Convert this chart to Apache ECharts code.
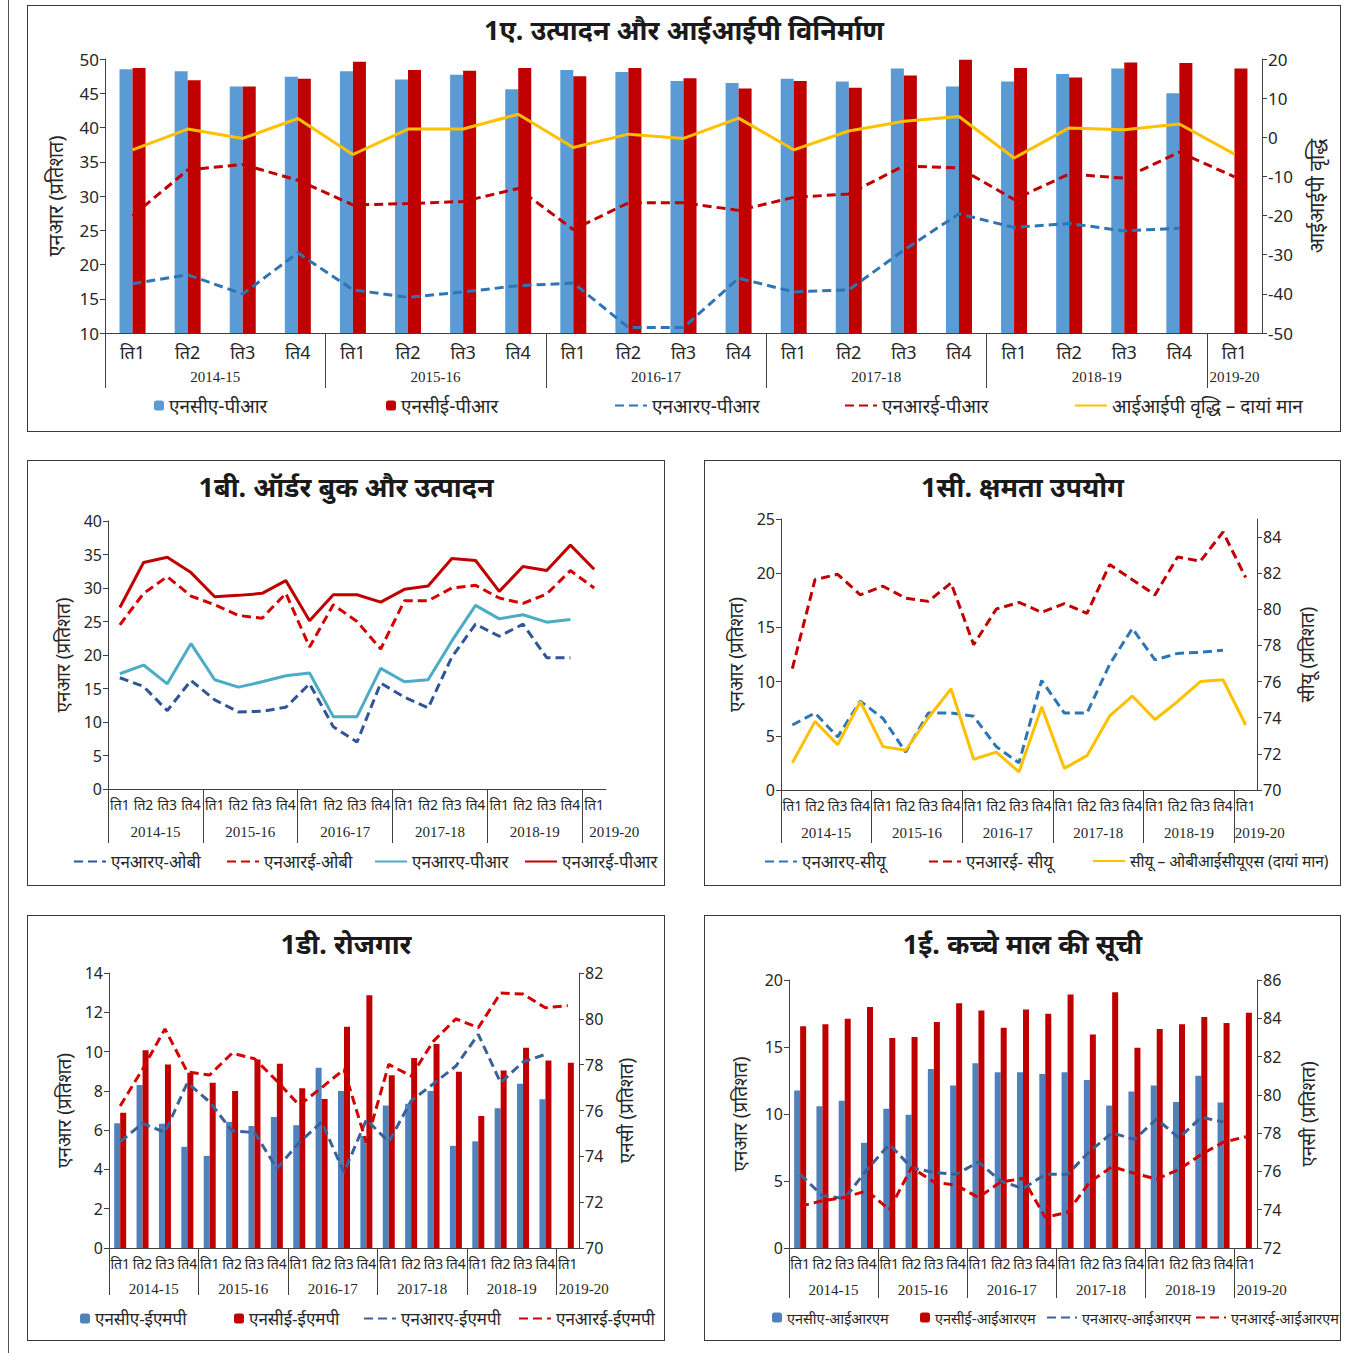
<!DOCTYPE html>
<html>
<head>
<meta charset="utf-8">
<script src="https://cdn.jsdelivr.net/npm/echarts@6/dist/echarts.min.js"></script>
<style>
  html, body { margin: 0; padding: 0; background: #fff; }
  body { width: 1358px; height: 1353px; position: relative; overflow: hidden; }
  .edge { position: absolute; left: 8px; top: 0; width: 1px; height: 1353px; background: #555; }
  .panel { position: absolute; box-sizing: border-box; border: 1.5px solid #3a3a3a; }
</style>
</head>
<body>
<div class="edge"></div>
<div id="pA" class="panel" style="left:27px;top:5px;width:1314px;height:427px;"></div>
<div id="pB" class="panel" style="left:27px;top:460px;width:638px;height:426px;"></div>
<div id="pC" class="panel" style="left:704px;top:460px;width:637px;height:426px;"></div>
<div id="pD" class="panel" style="left:27px;top:915px;width:638px;height:426px;"></div>
<div id="pE" class="panel" style="left:704px;top:915px;width:637px;height:426px;"></div>
<script>
// Quarter and financial-year labels shared by every panel
const quarters = ['ति1','ति2','ति3','ति4','ति1','ति2','ति3','ति4','ति1','ति2','ति3','ति4',
                  'ति1','ति2','ति3','ति4','ति1','ति2','ति3','ति4','ति1'];
const years = ['2014-15','2015-16','2016-17','2017-18','2018-19','2019-20'];
const yearBounds = [0, 4, 8, 12, 16, 20];
const yearCentres = [2, 6, 10, 14, 18, 20.5];

// 1A: production and IIP manufacturing
const ncaPR = [48.5,48.2,46.0,47.4,48.2,47.0,47.7,45.6,48.4,48.1,46.8,46.5,47.1,46.7,48.6,46.0,46.7,47.8,48.6,45.0,null];
const ncePR = [48.7,46.9,46.0,47.1,49.6,48.4,48.3,48.7,47.5,48.7,47.2,45.7,46.8,45.8,47.6,49.9,48.7,47.3,49.5,49.4,48.6];
const nraPR = [17.2,18.5,15.7,21.7,16.3,15.2,16.0,16.9,17.3,10.8,10.8,18.0,16.0,16.3,22.1,27.4,25.4,26.0,24.9,25.3,null];
const nrePR = [27.1,33.8,34.6,32.3,28.7,28.9,29.2,31.1,25.1,29.0,29.0,27.9,29.8,30.3,34.4,34.1,29.5,33.2,32.6,36.4,32.8];
const iipGrowth = [-3.2,2.1,-0.3,4.8,-4.4,2.1,2.1,5.9,-2.6,0.8,-0.3,4.9,-3.2,1.6,4.1,5.3,-5.3,2.4,1.9,3.4,-4.3];

// 1B: order books and production
const nraOB = [16.6,15.3,11.7,16.2,13.3,11.5,11.6,12.2,15.7,9.3,7.0,15.8,13.7,12.1,19.7,24.6,22.8,24.6,19.6,19.6,null];
const nreOB = [24.5,29.2,31.7,28.8,27.5,25.9,25.5,29.2,21.2,27.5,25.0,20.9,28.1,28.1,30.0,30.4,28.5,27.7,29.1,32.6,30.0];

// 1C: capacity utilisation
const nraCU = [6.0,7.1,4.9,8.2,6.6,3.5,7.1,7.1,6.8,4.0,2.5,10.1,7.1,7.1,11.6,14.9,12.0,12.6,12.7,12.9,null];
const nreCU = [11.2,19.4,19.9,18.0,18.8,17.7,17.4,19.1,13.4,16.7,17.3,16.4,17.2,16.3,20.8,19.4,18.0,21.5,21.1,23.8,19.6];
const cuObicus = [71.5,73.8,72.5,74.9,72.4,72.2,74.0,75.6,71.7,72.1,71.0,74.6,71.2,71.9,74.1,75.2,73.9,74.9,76.0,76.1,73.6];

// 1D: employment
const ncaEMP = [6.35,8.3,6.33,5.15,4.69,6.42,6.21,6.67,6.25,9.18,7.99,5.7,7.26,7.35,7.99,5.2,5.43,7.11,8.36,7.57,null];
const nceEMP = [6.89,10.07,9.34,8.92,8.41,7.99,9.6,9.38,8.13,7.58,11.27,12.87,8.79,9.67,10.39,8.97,6.72,9.04,10.19,9.55,9.43];
const nraEMP = [74.63,75.44,75.04,77.21,76.37,75.11,75.04,73.47,74.6,75.5,73.3,75.6,74.63,76.42,77.17,77.94,79.32,77.21,78.12,78.45,null];
const nreEMP = [76.2,77.8,79.56,77.68,77.55,78.5,78.26,77.29,76.23,77.0,77.79,74.6,78.01,77.5,79.03,80.0,79.61,81.13,81.08,80.48,80.58];

// 1E: raw material inventory
const ncaIRM = [11.75,10.57,10.99,7.85,10.4,9.95,13.36,12.12,13.78,13.11,13.11,12.99,13.11,12.54,10.64,11.68,12.12,10.89,12.86,10.86,null];
const nceIRM = [16.54,16.69,17.11,17.98,15.68,15.75,16.86,18.27,17.73,16.44,17.8,17.48,18.91,15.93,19.09,14.94,16.35,16.69,17.23,16.79,17.56];
const nraIRM = [75.85,74.73,74.59,76.1,77.41,76.2,75.94,75.85,76.49,75.5,75.1,75.85,75.85,77.06,78.01,77.67,78.74,77.75,78.83,78.58,null];
const nreIRM = [74.18,74.47,74.64,74.99,74.0,76.2,75.45,75.28,74.64,75.45,75.63,73.6,73.87,75.45,76.25,75.9,75.6,76.1,76.89,77.53,77.81];

const FONT = "'Noto Sans', 'Open Sans', sans-serif";
const SERIF = "'Liberation Serif', 'DejaVu Serif', serif";
const AXIS = '#404040';
const TEXT = '#262626';

function xAxes(c) {
  return [
    {
      type: 'category', data: quarters, position: 'bottom',
      axisLine: { onZero: false, lineStyle: { color: AXIS, width: 1 } },
      axisTick: { interval: 0, length: 5, lineStyle: { color: AXIS } },
      axisLabel: { interval: 0, margin: c.qMargin, fontSize: c.qFont, color: TEXT, fontFamily: FONT }
    },
    {
      type: 'value', min: 0, max: 21, position: 'bottom',
      axisLine: { show: false, onZero: false },
      splitLine: { show: false },
      axisTick: { show: true, customValues: yearBounds, length: c.sepLen, lineStyle: { color: AXIS } },
      axisLabel: {
        customValues: yearCentres, margin: c.yMargin, fontSize: 15, color: TEXT, fontFamily: SERIF,
        formatter: v => {
          const i = Math.min(5, Math.floor(v / 4));
          return i === 5 ? '{last|' + years[i] + '}' : years[i];
        },
        rich: { last: { fontSize: 15, fontFamily: SERIF, color: TEXT, padding: [0, 0, 0, c.lastShift * 2] } }
      }
    }
  ];
}

function yAxis(pos, a) {
  return {
    type: 'value', position: pos, min: a.min, max: a.max, interval: a.interval,
    name: a.name, nameLocation: 'middle', nameGap: a.gap, nameRotate: 90,
    nameTextStyle: { fontSize: a.nameFont || 19, color: TEXT, fontFamily: FONT },
    axisLine: { show: true, onZero: false, lineStyle: { color: AXIS } },
    axisTick: { show: true, length: 5, lineStyle: { color: AXIS } },
    splitLine: { show: false },
    axisLabel: { fontSize: a.font || 17, color: TEXT, fontFamily: FONT, margin: 6, showMaxLabel: a.showMax !== false }
  };
}

function bar(name, data, color, width, yi) {
  return { name, type: 'bar', data, yAxisIndex: yi || 0, barWidth: width, barGap: '0%',
           itemStyle: { color }, emphasis: { disabled: true } };
}
function line(name, data, color, dashed, yi) {
  return { name, type: 'line', data, yAxisIndex: yi || 0, symbol: 'none', connectNulls: false,
           lineStyle: { color, width: 3, type: dashed ? [9, 5] : 'solid' },
           itemStyle: { color }, emphasis: { disabled: true } };
}
function legends(items, top, font, lineIcon) {
  return items.map(([name, left, kind, size]) => ({
    data: [name], left, top, itemGap: 0,
    itemWidth: kind === 'bar' ? 10 : (lineIcon || 32), itemHeight: 10,
    itemStyle: kind === 'bar' ? {} : { opacity: 0 },
    textStyle: { fontSize: size || font, color: TEXT, fontFamily: FONT },
    selectedMode: false
  }));
}

function draw(id, c) {
  const chart = echarts.init(document.getElementById(id), null, { renderer: 'svg' });
  chart.setOption({
    animation: false,
    textStyle: { fontFamily: FONT },
    title: { text: c.title, left: 'center', top: c.titleTop,
             textStyle: { fontSize: 27, fontWeight: 'bold', color: '#1a1a1a', fontFamily: FONT } },
    grid: c.grid,
    legend: legends(c.legend, c.legendTop, c.legendFont, c.lineIcon),
    xAxis: xAxes(c),
    yAxis: c.yAxes,
    series: c.series
  });
}

const BLUE_A = '#5B9BD5', RED = '#C00000', BLUE_L = '#2E75B6', GOLD = '#FFC000';
const BLUE_D = '#4F81BD', NAVY = '#2F5597', CYAN = '#4BACC6', NAVY_D = '#3A6299', RED_L = '#D40000';

draw('pA', {
  title: '1ए. उत्पादन और आईआईपी विनिर्माण', titleTop: 5,
  grid: { left: 77, right: 78, top: 53, bottom: 98 },
  qMargin: 10, qFont: 18, yMargin: 36, sepLen: 55, lastShift: 0,
  yAxes: [
    yAxis('left', { min: 10, max: 50, interval: 5, name: 'एनआर (प्रतिशत)', gap: 40, nameFont: 20 }),
    yAxis('right', { min: -50, max: 20, interval: 10, name: 'आईआईपी वृद्धि', gap: 44, nameFont: 20 })
  ],
  legendTop: 385, legendFont: 19,
  legend: [['एनसीए-पीआर', 121, 'bar'], ['एनसीई-पीआर', 353, 'bar'], ['एनआरए-पीआर', 581, 'line'],
           ['एनआरई-पीआर', 811, 'line'], ['आईआईपी वृद्धि – दायां मान', 1041, 'line']],
  series: [
    bar('एनसीए-पीआर', ncaPR, BLUE_A, 13),
    bar('एनसीई-पीआर', ncePR, RED, 13),
    line('एनआरए-पीआर', nraPR, BLUE_L, true),
    line('एनआरई-पीआर', nrePR, RED, true),
    line('आईआईपी वृद्धि – दायां मान', iipGrowth, GOLD, false, 1)
  ]
});

draw('pB', {
  title: '1बी. ऑर्डर बुक और उत्पादन', titleTop: 7,
  grid: { left: 80, right: 58, top: 60, bottom: 96 },
  qMargin: 8, qFont: 14, yMargin: 35, sepLen: 54, lastShift: 20,
  yAxes: [ yAxis('left', { min: 0, max: 40, interval: 5, name: 'एनआर (प्रतिशत)', gap: 32, font: 16 }) ],
  legendTop: 387, legendFont: 17,
  legend: [['एनआरए-ओबी', 40, 'line'], ['एनआरई-ओबी', 193, 'line'], ['एनआरए-पीआर', 341, 'line'], ['एनआरई-पीआर', 491, 'line']],
  series: [
    line('एनआरए-ओबी', nraOB, NAVY, true),
    line('एनआरई-ओबी', nreOB, RED_L, true),
    line('एनआरए-पीआर', nraPR, CYAN, false),
    line('एनआरई-पीआर', nrePR, RED, false)
  ]
});

draw('pC', {
  title: '1सी. क्षमता उपयोग', titleTop: 7,
  grid: { left: 76, right: 83, top: 58, bottom: 95 },
  qMargin: 8, qFont: 14, yMargin: 35, sepLen: 53, lastShift: 14,
  yAxes: [
    yAxis('left', { min: 0, max: 25, interval: 5, name: 'एनआर (प्रतिशत)', gap: 34, font: 16 }),
    yAxis('right', { min: 70, max: 85, interval: 2, name: 'सीयू (प्रतिशत)', gap: 40, font: 16, showMax: false })
  ],
  legendTop: 387, legendFont: 17,
  legend: [['एनआरए-सीयू', 54, 'line'], ['एनआरई- सीयू', 218, 'line'], ['सीयू – ओबीआईसीयूएस (दायां मान)', 382, 'line', 15.5]],
  series: [
    line('एनआरए-सीयू', nraCU, BLUE_L, true),
    line('एनआरई- सीयू', nreCU, RED, true),
    line('सीयू – ओबीआईसीयूएस (दायां मान)', cuObicus, GOLD, false, 1)
  ]
});

draw('pD', {
  title: '1डी. रोजगार', titleTop: 9,
  grid: { left: 81, right: 85, top: 57, bottom: 92 },
  qMargin: 8, qFont: 14, yMargin: 33, sepLen: 47, lastShift: 16,
  yAxes: [
    yAxis('left', { min: 0, max: 14, interval: 2, name: 'एनआर (प्रतिशत)', gap: 34, font: 16 }),
    yAxis('right', { min: 70, max: 82, interval: 2, name: 'एनसी (प्रतिशत)', gap: 37, font: 16 })
  ],
  legendTop: 389, legendFont: 17,
  legend: [['एनसीए-ईएमपी', 47, 'bar'], ['एनसीई-ईएमपी', 201, 'bar'], ['एनआरए-ईएमपी', 330, 'line'], ['एनआरई-ईएमपी', 485, 'line']],
  series: [
    bar('एनसीए-ईएमपी', ncaEMP, BLUE_D, 6),
    bar('एनसीई-ईएमपी', nceEMP, RED, 6),
    line('एनआरए-ईएमपी', nraEMP, NAVY_D, true, 1),
    line('एनआरई-ईएमपी', nreEMP, RED_L, true, 1)
  ]
});

draw('pE', {
  title: '1ई. कच्चे माल की सूची', titleTop: 9,
  grid: { left: 84, right: 83, top: 64, bottom: 92 },
  qMargin: 8, qFont: 14, yMargin: 34, sepLen: 50, lastShift: 16,
  yAxes: [
    yAxis('left', { min: 0, max: 20, interval: 5, name: 'एनआर (प्रतिशत)', gap: 40, font: 16 }),
    yAxis('right', { min: 72, max: 86, interval: 2, name: 'एनसी (प्रतिशत)', gap: 41, font: 16 })
  ],
  legendTop: 389, legendFont: 14.5, lineIcon: 30,
  legend: [['एनसीए-आईआरएम', 62, 'bar'], ['एनसीई-आईआरएम', 210, 'bar'], ['एनआरए-आईआरएम', 336, 'line'], ['एनआरई-आईआरएम', 485, 'line']],
  series: [
    bar('एनसीए-आईआरएम', ncaIRM, BLUE_D, 6),
    bar('एनसीई-आईआरएम', nceIRM, RED, 6),
    line('एनआरए-आईआरएम', nraIRM, NAVY_D, true, 1),
    line('एनआरई-आईआरएम', nreIRM, RED_L, true, 1)
  ]
});
</script>
</body>
</html>
